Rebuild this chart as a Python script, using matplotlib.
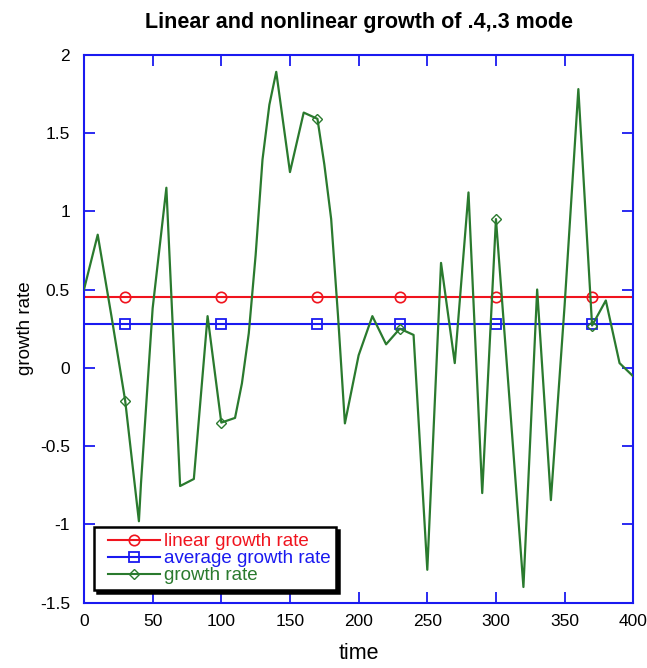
import matplotlib
matplotlib.use("Agg")
import matplotlib.pyplot as plt
from matplotlib.lines import Line2D
from matplotlib.legend_handler import HandlerLine2D

plt.rcParams['font.family'] = ['Liberation Sans', 'DejaVu Sans']
plt.rcParams['axes.unicode_minus'] = False

# ---- data ----
time = [0, 10, 20, 30, 40, 41.5, 50, 60, 70, 80, 90, 100, 110, 115, 120, 125,
        130, 135, 140, 150, 160, 170, 175, 180, 185, 190, 200, 210, 220, 230,
        240, 250, 260, 270, 280, 290, 300, 310, 320, 330, 340, 350, 360, 370,
        380, 390, 400]
growth = [0.50, 0.85, 0.33, -0.21, -0.98, -0.74, 0.38, 1.15, -0.755, -0.71,
          0.33, -0.35, -0.32, -0.10, 0.22, 0.72, 1.33, 1.68, 1.89, 1.25, 1.63,
          1.59, 1.30, 0.95, 0.33, -0.355, 0.08, 0.33, 0.15, 0.25, 0.21, -1.29,
          0.67, 0.03, 1.12, -0.80, 0.95, -0.22, -1.40, 0.50, -0.845, 0.40,
          1.78, 0.27, 0.43, 0.03, -0.055]
marker_times = [30, 100, 170, 230, 300, 370]
linear_rate = 0.45
average_rate = 0.28

x_ticks = [0, 50, 100, 150, 200, 250, 300, 350, 400]
y_ticks = [-1.5, -1, -0.5, 0, 0.5, 1, 1.5, 2]
y_ticklabels = ['-1.5', '-1', '-0.5', '0', '0.5', '1', '1.5', '2']

RED = '#f0141e'
BLUE = '#1a1af0'
GREEN = '#2a7a2e'

fig = plt.figure(figsize=(6.47, 6.68), dpi=100)
ax = fig.add_axes([0.1298, 0.0978, 0.849, 0.8204])

t_line = [0, 400]
mk_idx = [time.index(t) for t in marker_times]

ax.plot(t_line, [linear_rate, linear_rate], color=RED, lw=1.5, zorder=2)
ax.plot(marker_times, [linear_rate] * len(marker_times), ls='none', marker='o',
        ms=7.5, mfc='none', mec=RED, mew=1.2, zorder=3)
ax.plot(t_line, [average_rate, average_rate], color=BLUE, lw=1.5, zorder=2)
ax.plot(marker_times, [average_rate] * len(marker_times), ls='none', marker='s',
        ms=7, mfc='none', mec=BLUE, mew=1.3, zorder=3)
ax.plot(time, growth, color=GREEN, lw=1.6, marker='D', ms=5.5, mfc='none',
        mec=GREEN, mew=1.0, markevery=mk_idx, zorder=4)

ax.set_xlim(0, 400)
ax.set_ylim(-1.5, 2)
ax.set_xticks(x_ticks)
ax.set_xticklabels([str(v) for v in x_ticks])
ax.set_yticks(y_ticks)
ax.set_yticklabels(y_ticklabels)

for s in ax.spines.values():
    s.set_color(BLUE)
    s.set_linewidth(1.5)
ax.tick_params(direction='in', length=8, width=1.3, color=BLUE,
               top=True, right=True, labelsize=12.5)
ax.tick_params(axis='y', pad=10)
ax.tick_params(axis='x', pad=8)

ax.set_title('Linear and nonlinear growth of .4,.3 mode', fontsize=15.5,
             fontweight='bold', pad=19)
ax.set_xlabel('time', fontsize=15.5, labelpad=10)
ax.set_ylabel('growth rate', fontsize=13.5, labelpad=4)

handles = [
    Line2D([], [], color=RED, lw=1.5, marker='o', ms=7.5, mfc='none', mec=RED, mew=1.2),
    Line2D([], [], color=BLUE, lw=1.5, marker='s', ms=7, mfc='none', mec=BLUE, mew=1.3),
    Line2D([], [], color=GREEN, lw=1.5, marker='D', ms=5, mfc='none', mec=GREEN, mew=1.0),
]
labels = ['linear growth rate', 'average growth rate', 'growth rate']
leg = ax.legend(handles, labels, loc='lower left', bbox_to_anchor=(0.018, 0.023),
                borderaxespad=0, fontsize=13.5, handlelength=3.25, handletextpad=0.2,
                labelspacing=0.0, borderpad=0.3, fancybox=False,
                framealpha=1, edgecolor='black',
                handler_map={Line2D: HandlerLine2D(xpad=0.48)},
                shadow={'color': 'black', 'alpha': 1})
leg.get_frame().set_linewidth(1.8)
for txt, c in zip(leg.get_texts(), [RED, BLUE, GREEN]):
    txt.set_color(c)

fig.savefig('out.png', dpi=100)
